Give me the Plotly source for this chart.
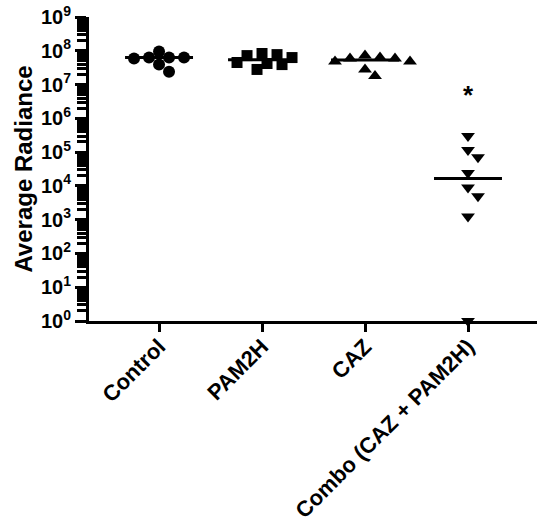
import numpy as np
import plotly.graph_objects as go

# Average radiance per animal
groups = ["Control", "PAM2H", "CAZ", "Combo (CAZ + PAM2H)"]
control = [5.9e7, 6.3e7, 9.5e7, 6.3e7, 6.3e7, 3.9e7, 2.4e7]
pam2h = [7.2e7, 7.7e7, 4.2e7, 2.8e7, 8.3e7, 3.9e7, 6.3e7, 4.5e7]
caz = [6.3e7, 5.9e7, 4.8e7, 7.2e7, 4.8e7, 5.9e7, 2.8e7, 1.8e7]
combo = [3.0e5, 1.15e5, 7.0e4, 2.4e4, 9.0e3, 4.9e3, 1.25e3, 1.0]
series = [control, pam2h, caz, combo]
symbols = ["circle", "square", "triangle-up", "triangle-down"]

decades = list(range(0, 10))
tick_vals = [10.0**n for n in decades]
tick_text = [f"10<sup>{n}</sup>" for n in decades]
minor_vals = [m * 10.0**n for n in decades[:-1] for m in range(2, 10)]

X_RANGE = [-0.68, 3.67]
Y_RANGE = [0, 9]
L, R, T, B = 89, 13, 17, 205
W, H = 550, 526
PX_X = (W - L - R) / (X_RANGE[1] - X_RANGE[0])
PX_Y = (H - T - B) / (Y_RANGE[1] - Y_RANGE[0])


def swarm_offsets(values, diameter=10.5, step=5.0):
    """Simple beeswarm: spread points sideways so markers don't pile up."""
    ys = np.log10(np.maximum(values, 1)) * PX_Y
    placed = []
    offsets = [0.0] * len(values)
    for i in np.argsort(-ys):
        k = 0
        while True:
            cands = [0.0] if k == 0 else [k * step, -k * step]
            ok = None
            for c in cands:
                if all(np.hypot(c - px, ys[i] - py) >= diameter for px, py in placed):
                    ok = c
                    break
            if ok is not None:
                placed.append((ok, ys[i]))
                offsets[i] = ok / PX_X
                break
            k += 1
    return offsets


fig = go.Figure()

for i, (vals, sym) in enumerate(zip(series, symbols)):
    offs = swarm_offsets(vals)
    fig.add_trace(
        go.Scatter(
            x=[i + o for o in offs],
            y=vals,
            mode="markers",
            marker=dict(symbol=sym, size=12 if sym != "square" else 11, color="black"),
            cliponaxis=False,
            showlegend=False,
        )
    )
    med = float(np.median(vals))
    fig.add_trace(
        go.Scatter(
            x=[i - 0.33, i + 0.33],
            y=[med, med],
            mode="lines",
            line=dict(color="black", width=3),
            showlegend=False,
        )
    )

fig.add_annotation(
    x=3, y=6.7, text="*", showarrow=False,
    font=dict(family="Liberation Sans", size=26, color="black", weight="bold"),
)

fig.update_layout(
    width=W,
    height=H,
    margin=dict(l=L, r=R, t=T, b=B),
    plot_bgcolor="white",
    paper_bgcolor="white",
    font=dict(family="Liberation Sans", color="black"),
    xaxis=dict(
        range=X_RANGE,
        automargin=False,
        tickvals=list(range(len(groups))),
        ticktext=groups,
        tickangle=-45,
        ticks="outside",
        ticklen=8,
        tickwidth=3,
        tickcolor="black",
        ticklabelstandoff=-7,
        showline=True,
        linewidth=3,
        linecolor="black",
        showgrid=False,
        zeroline=False,
        tickfont=dict(size=22, weight="bold"),
    ),
    yaxis=dict(
        type="log",
        range=Y_RANGE,
        automargin=False,
        tickvals=tick_vals,
        ticktext=tick_text,
        ticks="outside",
        ticklen=11,
        tickwidth=3,
        tickcolor="black",
        minor=dict(tickvals=minor_vals, ticks="outside", ticklen=9, tickwidth=3, tickcolor="black"),
        showline=True,
        linewidth=3,
        linecolor="black",
        showgrid=False,
        zeroline=False,
        tickfont=dict(size=20, weight="bold"),
        title=dict(text="Average Radiance", font=dict(size=24, weight="bold"), standoff=2),
    ),
)

# the page body has an 8px default margin; drop it so the figure sits at 0,0
fig.write_html(
    "out.html",
    config={"displayModeBar": False},
    post_script="document.body.style.margin = '0';",
)
